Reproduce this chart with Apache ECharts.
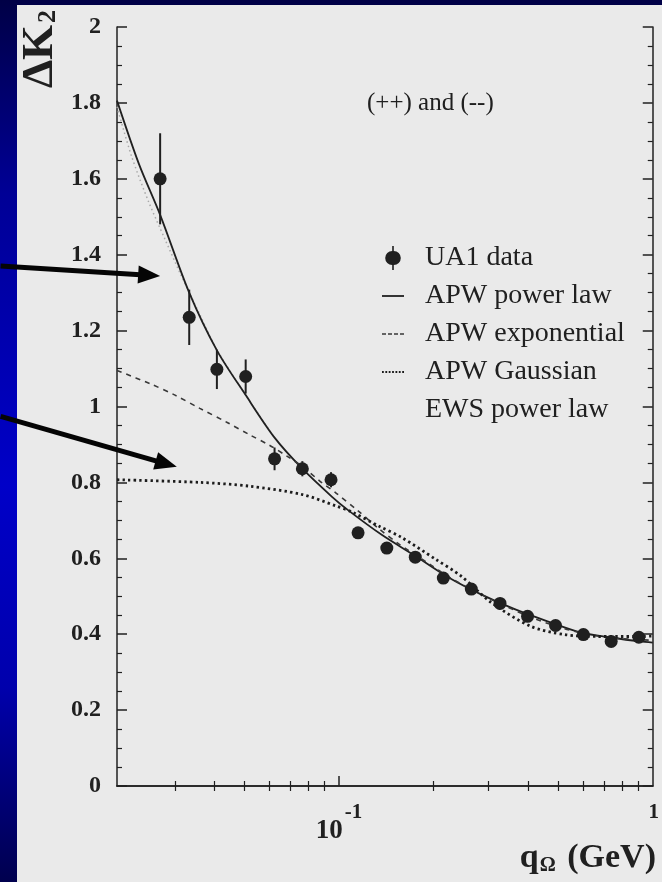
<!DOCTYPE html>
<html>
<head>
<meta charset="utf-8">
<title>Delta K2 vs q</title>
<script src="https://cdn.jsdelivr.net/npm/echarts@6/dist/echarts.min.js"></script>
<style>
  html, body { margin: 0; padding: 0; }
  #chart { width: 662px; height: 882px; }
</style>
</head>
<body>
<div id="chart"></div>
<script>
// UA1 data: q (GeV), Delta K2, error
const qData = [0.0269, 0.0333, 0.0408, 0.0504, 0.0623, 0.0764, 0.0943, 0.115, 0.142, 0.175, 0.215, 0.264, 0.326, 0.399, 0.490, 0.601, 0.737, 0.903];
const kData = [1.60, 1.235, 1.098, 1.079, 0.862, 0.836, 0.807, 0.667, 0.627, 0.603, 0.548, 0.519, 0.481, 0.447, 0.423, 0.399, 0.381, 0.392];
const kErr = [0.12, 0.073, 0.052, 0.045, 0.03, 0.02, 0.02, 0.015, 0.012, 0.012, 0.012, 0.012, 0.015, 0.012, 0.012, 0.01, 0.012, 0.01];

// APW power law (solid)
const powerQ = [0.0196, 0.0230, 0.0269, 0.0333, 0.0408, 0.0504, 0.0623, 0.0764, 0.0950, 0.1076, 0.1368, 0.1752, 0.2228, 0.2835, 0.3630, 0.4619, 0.5877, 0.7525, 0.9097, 1.0];
const powerK = [1.806, 1.64, 1.505, 1.30, 1.148, 1.03, 0.918, 0.836, 0.762, 0.725, 0.662, 0.606, 0.550, 0.505, 0.466, 0.434, 0.405, 0.390, 0.381, 0.378];

// APW exponential (dashed)
const expQ = [0.0196, 0.025, 0.030, 0.036, 0.044, 0.052, 0.060, 0.068, 0.0764, 0.087, 0.0978, 0.115, 0.134, 0.155, 0.19, 0.23, 0.30, 0.40, 0.52, 0.66, 0.80, 1.0];
const expK = [1.095, 1.06, 1.03, 0.995, 0.958, 0.925, 0.898, 0.870, 0.842, 0.803, 0.772, 0.725, 0.678, 0.638, 0.59, 0.545, 0.495, 0.448, 0.415, 0.396, 0.388, 0.384];

// APW Gaussian (dotted)
const gaussQ = [0.0196, 0.0361, 0.0519, 0.0764, 0.0978, 0.1099, 0.1339, 0.1583, 0.2027, 0.2451, 0.305, 0.408, 0.523, 0.665, 0.889, 1.0];
const gaussK = [0.807, 0.80, 0.79, 0.768, 0.738, 0.722, 0.685, 0.655, 0.598, 0.553, 0.484, 0.421, 0.399, 0.394, 0.394, 0.395];

// EWS power law (faint, only visible near the top)
const ewsQ = [0.0196, 0.0218, 0.0247, 0.0279, 0.0312, 0.0361, 0.0408, 0.0504, 0.0623];
const ewsK = [1.79, 1.66, 1.54, 1.44, 1.35, 1.24, 1.15, 1.03, 0.918];

// axis ticks
const xMinorTicks = [0.03, 0.04, 0.05, 0.06, 0.07, 0.08, 0.09, 0.2, 0.3, 0.4, 0.5, 0.6, 0.7, 0.8, 0.9];
const xLabelTicks = [0.1, 1];

// annotation arrows [tail, tip] in data coords
const arrows = [
  [[0.00834, 1.370], [0.0269, 1.344]],
  [[0.00834, 0.974], [0.0304, 0.841]]
];

const ink = '#202020';
const serif = '"Liberation Serif", "DejaVu Serif", serif';
const zip = (a, b) => a.map((v, i) => [v, b[i]]);

// legend samples
const iconData = 'path://M10.2,0 H11.8 V5 A7,7 0 0 1 11.8,19 V24 H10.2 V19 A7,7 0 0 1 10.2,5 Z';
const iconSolid = 'path://M0,0 H22 V1.8 H0 Z';
const iconDash = 'path://M0,0 H4 V1.5 H0 Z M6,0 H10 V1.5 H6 Z M12,0 H16 V1.5 H12 Z M18,0 H22 V1.5 H18 Z';
const iconDot = 'path://' + [0, 1, 2, 3, 4, 5, 6].map(i => {
  const x = (i * 20.2 / 6).toFixed(2);
  return 'M' + x + ',0 h1.8 v1.8 h-1.8 Z';
}).join(' ');

const chart = echarts.init(document.getElementById('chart'));

const xBase = {
  type: 'log', logBase: 10, min: 0.0196, max: 1,
  splitLine: { show: false },
  axisLine: { lineStyle: { color: ink, width: 1.5 } }
};
const yBase = {
  type: 'value', min: 0, max: 2, interval: 0.2,
  splitLine: { show: false },
  axisLine: { show: true, lineStyle: { color: ink, width: 1.5 } },
  axisTick: { show: true, inside: true, length: 10, lineStyle: { color: ink, width: 1.5 } },
  minorTick: { show: true, splitNumber: 4, length: 5, lineStyle: { color: ink, width: 1.2 } }
};

const option = {
  backgroundColor: new echarts.graphic.LinearGradient(0, 0, 0, 1, [
    { offset: 0, color: '#000046' },
    { offset: 0.22, color: '#000096' },
    { offset: 0.55, color: '#0000c8' },
    { offset: 0.78, color: '#0000ac' },
    { offset: 0.9, color: '#000078' },
    { offset: 1, color: '#00004e' }
  ]),
  animation: false,
  title: {
    text: '(++) and (--)',
    left: 362, top: 86,
    textStyle: { fontFamily: serif, fontWeight: 'normal', fontSize: 25, color: ink }
  },
  legend: {
    orient: 'vertical', left: 377, top: 239,
    itemWidth: 22, itemHeight: 24, itemGap: 10,
    selectedMode: false,
    textStyle: { fontFamily: serif, fontSize: 28, lineHeight: 28, color: ink, padding: [0, 0, 0, 16] },
    data: [
      { name: 'UA1 data', icon: iconData },
      { name: 'APW power law', icon: iconSolid },
      { name: 'APW exponential', icon: iconDash },
      { name: 'APW Gaussian', icon: iconDot },
      { name: 'EWS power law', icon: iconSolid, itemStyle: { opacity: 0 } }
    ]
  },
  grid: { left: 117, right: 7, top: 27, bottom: 96 },
  xAxis: [
    Object.assign({}, xBase, {
      position: 'bottom',
      axisTick: { show: true, inside: true, length: 10, customValues: [0.1], lineStyle: { color: ink, width: 1.5 } },
      axisLabel: {
        customValues: xLabelTicks,
        margin: 16,
        formatter: v => (v < 0.5 ? '{b|10}{s|-1}' : '{s|1}'),
        rich: {
          b: { fontFamily: serif, fontWeight: 'bold', fontSize: 27, color: ink, verticalAlign: 'bottom' },
          s: { fontFamily: serif, fontWeight: 'bold', fontSize: 21, color: ink, verticalAlign: 'bottom', padding: [0, 0, 22, 2] }
        }
      }
    }),
    Object.assign({}, xBase, {
      position: 'top',
      axisTick: { show: true, inside: true, length: 5, customValues: xMinorTicks, lineStyle: { color: ink, width: 1.2 } },
      axisLabel: { show: false }
    }),
    Object.assign({}, xBase, {
      position: 'bottom',
      axisLine: { show: false },
      axisTick: { show: true, inside: true, length: 5, customValues: xMinorTicks, lineStyle: { color: ink, width: 1.2 } },
      axisLabel: { show: false }
    })
  ],
  yAxis: [
    Object.assign({}, yBase, {
      position: 'left',
      axisLabel: { margin: 16, fontFamily: serif, fontWeight: 'bold', fontSize: 24, color: ink }
    }),
    Object.assign({}, yBase, {
      position: 'right',
      axisLabel: { show: false }
    })
  ],
  series: [
    {
      name: 'APW power law', type: 'line', smooth: 0.3, symbol: 'none',
      data: zip(powerQ, powerK),
      lineStyle: { color: ink, width: 1.8, type: 'solid' }, itemStyle: { color: ink }, z: 3
    },
    {
      name: 'APW exponential', type: 'line', smooth: 0.3, symbol: 'none',
      data: zip(expQ, expK),
      lineStyle: { color: '#383838', width: 1.6, type: [5, 5] }, itemStyle: { color: '#383838' }, z: 3
    },
    {
      name: 'APW Gaussian', type: 'line', smooth: 0.3, symbol: 'none',
      data: zip(gaussQ, gaussK),
      lineStyle: { color: '#1c1c1c', width: 2.8, type: [2.4, 3.2] }, itemStyle: { color: '#1c1c1c' }, z: 3
    },
    {
      name: 'EWS power law', type: 'line', smooth: 0.3, symbol: 'none',
      data: zip(ewsQ, ewsK),
      lineStyle: { color: '#a9a9a9', width: 1.5, type: [1.5, 3] }, itemStyle: { color: '#a9a9a9' }, z: 2
    },
    {
      name: 'UA1 errors', type: 'custom',
      data: qData.map((q, i) => [q, kData[i] - kErr[i], kData[i] + kErr[i]]),
      encode: { x: 0, y: [1, 2] },
      renderItem: (params, api) => {
        const lo = api.coord([api.value(0), api.value(1)]);
        const hi = api.coord([api.value(0), api.value(2)]);
        return {
          type: 'line',
          shape: { x1: lo[0], y1: lo[1], x2: hi[0], y2: hi[1] },
          style: { stroke: ink, lineWidth: 2 }
        };
      },
      z: 4
    },
    {
      name: 'UA1 data', type: 'scatter', symbol: 'circle', symbolSize: 13,
      data: zip(qData, kData),
      itemStyle: { color: ink, opacity: 1 }, z: 5
    }
  ]
};

chart.setOption(option);

// paper, axis titles and arrows
function arrowShapes(tail, tip) {
  const p0 = chart.convertToPixel({ xAxisIndex: 0, yAxisIndex: 0 }, tail);
  const p1 = chart.convertToPixel({ xAxisIndex: 0, yAxisIndex: 0 }, tip);
  const dx = p1[0] - p0[0], dy = p1[1] - p0[1];
  const len = Math.sqrt(dx * dx + dy * dy);
  const ux = dx / len, uy = dy / len;
  const headLen = 22, halfW = 9;
  const bx = p1[0] - ux * headLen, by = p1[1] - uy * headLen;
  return [
    {
      type: 'line', z: 100, silent: true,
      shape: { x1: p0[0], y1: p0[1], x2: bx + ux * 2, y2: by + uy * 2 },
      style: { stroke: '#050505', lineWidth: 5 }
    },
    {
      type: 'polygon', z: 100, silent: true,
      shape: { points: [p1, [bx - uy * halfW, by + ux * halfW], [bx + uy * halfW, by - ux * halfW]] },
      style: { fill: '#050505' }
    }
  ];
}

const graphics = [
  {
    type: 'rect', z: -10, silent: true,
    shape: { x: 17, y: 5, width: 645, height: 877 },
    style: { fill: '#eaeaea' }
  },
  {
    type: 'text', z: 10, silent: true,
    x: 40, y: 49, rotation: Math.PI / 2,
    style: {
      text: '{m|ΔK}{s|2}',
      align: 'center', verticalAlign: 'middle',
      rich: {
        m: { fontFamily: serif, fontWeight: 'bold', fontSize: 45, fill: ink },
        s: { fontFamily: serif, fontWeight: 'bold', fontSize: 26, fill: ink, padding: [16, 0, 0, 2] }
      }
    }
  },
  {
    type: 'text', z: 10, silent: true,
    x: 656, y: 858,
    style: {
      text: '{m|q}{s|Ω}{m| (GeV)}',
      align: 'right', verticalAlign: 'middle',
      rich: {
        m: { fontFamily: serif, fontWeight: 'bold', fontSize: 34, fill: ink },
        s: { fontFamily: serif, fontWeight: 'bold', fontSize: 20, fill: ink, padding: [16, 3, 0, 1] }
      }
    }
  }
];
arrows.forEach(a => graphics.push(...arrowShapes(a[0], a[1])));
chart.setOption({ graphic: graphics });
</script>
</body>
</html>
